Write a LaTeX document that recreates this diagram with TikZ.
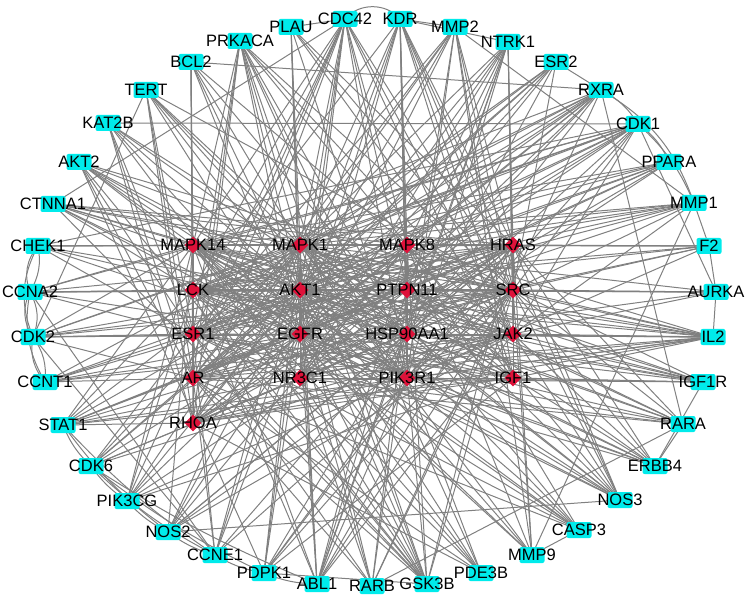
\documentclass[tikz,border=0pt]{standalone}
\usepackage{fontspec}
\setmainfont{Liberation Sans}
\usetikzlibrary{shapes.geometric,backgrounds}
\definecolor{genecyan}{RGB}{0,235,235}
\definecolor{hubred}{RGB}{222,18,58}
\definecolor{edgegray}{RGB}{128,128,128}
\tikzset{
  gene/.style={rectangle,rounded corners=2pt,fill=genecyan,minimum width=25pt,minimum height=16pt,inner sep=0pt},
  hub/.style={diamond,fill=hubred,minimum size=17pt,inner sep=0pt},
  nametag/.style={font=\fontsize{16.5}{18}\selectfont,text=black,inner sep=0pt},
  ppi/.style={draw=edgegray,line width=1pt},
}

\begin{document}
\begin{tikzpicture}[x=1pt,y=-1pt]
  \useasboundingbox (0,0) rectangle (749,601);

  % core targets
  \foreach \n/\x/\y in {MAPK14/193/245, MAPK1/300/245, MAPK8/407/245, HRAS/513/245,
                        LCK/193/290, AKT1/300/290, PTPN11/407/290, SRC/513/290,
                        ESR1/193/334, EGFR/300/334, HSP90AA1/407/334, JAK2/513/334,
                        AR/193/378, NR3C1/300/378, PIK3R1/407/378, IGF1/513/378,
                        RHOA/193/423}
    \node[hub,label={[nametag]center:\n}] (\n) at (\x,\y) {};

  % outer ring
  \foreach \n/\x/\y in {PLAU/291/27, CDC42/345/19, KDR/400/19, MMP2/455/27, NTRK1/508/42,
                        ESR2/556/62, RXRA/601/90, CDK1/638/124, PPARA/669/162, MMP1/694/203,
                        F2/709/246, AURKA/716/292, IL2/713/337, IGF1R/703/382, RARA/683/424,
                        ERBB4/655/466, NOS3/620/500, CASP3/579/530, MMP9/532/555, PDE3B/481/573,
                        GSK3B/427/584, RARB/372/586, ABL1/317/584, PDPK1/264/573, CCNE1/215/555,
                        NOS2/168/532, PIK3CG/127/501, CDK6/91/466, STAT1/63/425, CCNT1/45/382,
                        CDK2/33/337, CCNA2/30/292, CHEK1/38/246, CTNNA1/53/204, AKT2/79/162,
                        KAT2B/108/123, TERT/146/90, BCL2/191/62, PRKACA/240/41}
    \node[gene,label={[nametag]center:\n}] (\n) at (\x,\y) {};

  \begin{pgfonlayer}{background}
    % core to core
    \foreach \a [count=\i] in {MAPK14,MAPK1,MAPK8,HRAS,LCK,AKT1,PTPN11,SRC,ESR1,EGFR,HSP90AA1,JAK2,AR,NR3C1,PIK3R1,IGF1,RHOA}
      \foreach \b [count=\j] in {MAPK14,MAPK1,MAPK8,HRAS,LCK,AKT1,PTPN11,SRC,ESR1,EGFR,HSP90AA1,JAK2,AR,NR3C1,PIK3R1,IGF1,RHOA}
        {\ifnum\j>\i \draw[ppi] (\a.center) -- (\b.center); \fi}

    % ring to core
    \foreach \g/\hs in {
      PLAU/{MAPK1,AKT1,EGFR,SRC,HRAS,PIK3R1,JAK2},
      CDC42/{MAPK14,MAPK1,MAPK8,LCK,AKT1,PTPN11,SRC,EGFR,JAK2,PIK3R1,RHOA,AR,ESR1,NR3C1,IGF1},
      KDR/{MAPK1,MAPK8,AKT1,PTPN11,SRC,EGFR,HSP90AA1,JAK2,PIK3R1,IGF1,HRAS,LCK,NR3C1},
      MMP2/{MAPK1,AKT1,EGFR,SRC,HRAS,IGF1,ESR1,HSP90AA1,PIK3R1,AR},
      NTRK1/{MAPK1,MAPK8,AKT1,PTPN11,SRC,EGFR,PIK3R1,HRAS,JAK2,HSP90AA1,NR3C1},
      ESR2/{ESR1,AR,NR3C1,EGFR,AKT1,SRC,HSP90AA1,MAPK1},
      RXRA/{MAPK14,MAPK1,MAPK8,AR,ESR1,NR3C1,AKT1,EGFR,HSP90AA1,PTPN11,LCK},
      CDK1/{MAPK14,MAPK1,LCK,AKT1,SRC,EGFR,HSP90AA1,JAK2,PIK3R1,AR,ESR1,RHOA},
      PPARA/{MAPK14,MAPK1,AKT1,ESR1,AR,NR3C1,EGFR,HSP90AA1,LCK},
      MMP1/{MAPK14,MAPK1,MAPK8,AKT1,EGFR,ESR1,SRC,JAK2,LCK},
      F2/{HRAS,MAPK1,MAPK14,SRC,EGFR,AKT1,PIK3R1,LCK},
      AURKA/{SRC,AKT1,PTPN11,HSP90AA1,LCK,JAK2,MAPK1},
      IL2/{MAPK14,MAPK1,MAPK8,LCK,AKT1,PTPN11,SRC,ESR1,EGFR,HSP90AA1,JAK2,PIK3R1,IGF1,NR3C1,AR,RHOA},
      IGF1R/{IGF1,PIK3R1,AKT1,EGFR,SRC,MAPK1,JAK2,HSP90AA1,PTPN11,AR,LCK},
      RARA/{MAPK14,MAPK1,ESR1,AR,NR3C1,EGFR,HRAS,AKT1,PTPN11,SRC},
      ERBB4/{EGFR,PIK3R1,SRC,HRAS,MAPK1,AKT1,PTPN11,JAK2,ESR1,MAPK14},
      NOS3/{AKT1,MAPK1,MAPK8,HSP90AA1,EGFR,SRC,LCK,MAPK14,PTPN11,HRAS,JAK2},
      CASP3/{AKT1,MAPK14,MAPK8,EGFR,MAPK1,LCK,ESR1,AR},
      MMP9/{MAPK1,MAPK8,AKT1,EGFR,SRC,HRAS,MAPK14},
      PDE3B/{AKT1,PIK3R1,EGFR,MAPK14,AR,RHOA,LCK},
      GSK3B/{AKT1,MAPK14,MAPK1,MAPK8,HRAS,SRC,LCK,EGFR,ESR1,AR,PIK3R1,NR3C1},
      RARB/{ESR1,AR,NR3C1,EGFR,AKT1,HSP90AA1,PTPN11,SRC},
      ABL1/{MAPK14,MAPK1,MAPK8,LCK,AKT1,PTPN11,SRC,EGFR,HSP90AA1,JAK2,PIK3R1,HRAS},
      PDPK1/{AKT1,PIK3R1,EGFR,SRC,HSP90AA1,MAPK1,HRAS,IGF1},
      CCNE1/{AKT1,MAPK1,EGFR,ESR1,AR,SRC,HSP90AA1},
      NOS2/{AKT1,MAPK14,MAPK1,MAPK8,EGFR,SRC,HSP90AA1,JAK2,HRAS},
      PIK3CG/{AKT1,PIK3R1,MAPK14,MAPK1,EGFR,LCK,HRAS,IGF1},
      CDK6/{EGFR,AKT1,ESR1,AR,SRC,HSP90AA1,MAPK1,JAK2},
      STAT1/{MAPK14,MAPK1,JAK2,SRC,EGFR,AKT1,LCK,PTPN11,RHOA,HRAS,IGF1},
      CCNT1/{AR,ESR1,AKT1,EGFR,HSP90AA1,MAPK1,JAK2,HRAS},
      CDK2/{ESR1,AR,AKT1,EGFR,SRC,MAPK14,MAPK1,HSP90AA1,PTPN11},
      CCNA2/{LCK,AKT1,PTPN11,SRC,ESR1,EGFR,MAPK14,HRAS},
      CHEK1/{MAPK14,MAPK1,AKT1,EGFR,ESR1,HSP90AA1,MAPK8},
      CTNNA1/{MAPK14,MAPK1,MAPK8,HRAS,AKT1,SRC,EGFR,JAK2,PIK3R1,LCK},
      AKT2/{AKT1,MAPK14,MAPK1,EGFR,ESR1,AR,SRC,PIK3R1,HSP90AA1},
      KAT2B/{ESR1,AR,AKT1,EGFR,MAPK1,NR3C1,HSP90AA1,RHOA},
      TERT/{AKT1,MAPK1,EGFR,ESR1,AR,HSP90AA1,SRC,PIK3R1,RHOA},
      BCL2/{AKT1,MAPK14,MAPK1,MAPK8,EGFR,ESR1,AR,RHOA},
      PRKACA/{MAPK14,MAPK1,MAPK8,AKT1,EGFR,SRC,ESR1,HSP90AA1,JAK2,PIK3R1,AR,RHOA}}
      \foreach \h in \hs
        \draw[ppi] (\g.center) -- (\h.center);

    % ring to ring
    \foreach \a/\b in {PLAU/CDC42, KDR/MMP2, KDR/NTRK1, BCL2/RXRA, KAT2B/CDK1, CDK1/CCNA2,
                       CDK1/CDK2, CDK1/CHEK1, CDK2/CCNE1, CCNA2/CCNE1, RXRA/RARA, RXRA/RARB,
                       RARA/RARB, MMP1/MMP2, MMP1/MMP9, MMP2/MMP9, F2/MMP1, F2/AURKA,
                       AURKA/CDK1, IL2/STAT1, KDR/NOS3, NOS2/NOS3, CASP3/BCL2, GSK3B/CTNNA1,
                       GSK3B/PDPK1, PDPK1/AKT2, ERBB4/RARA, PRKACA/PDE3B, PRKACA/GSK3B,
                       CDC42/PIK3CG, TERT/CDK2, AKT2/GSK3B, CTNNA1/CDC42, ESR2/RXRA,
                       AURKA/IL2, IGF1R/ERBB4, CASP3/MMP9, NTRK1/ABL1}
      \draw[ppi] (\a.center) -- (\b.center);
    \foreach \a/\b/\s in {CDC42/KDR/50, RXRA/CDK1/15, CDK1/PPARA/15, RXRA/MMP1/20, CDK1/MMP1/12,
                          CCNT1/CDK2/25, CDK2/CCNA2/30, CCNA2/CHEK1/30, CDK2/CHEK1/25, CCNT1/CCNA2/20,
                          CDK2/CCNA2/-25, CCNA2/CHEK1/-20, CCNT1/CDK2/-20, CDK6/STAT1/12, PIK3CG/CDK6/10,
                          NOS2/PIK3CG/10, CCNE1/NOS2/10, PDPK1/CCNE1/10, ABL1/PDPK1/10, NOS2/STAT1/8,
                          CCNE1/CDK6/8, PDPK1/CDK6/6, ABL1/CDK6/5, CCNE1/STAT1/6}
      \draw[ppi] (\a.center) to[bend left=\s] (\b.center);
  \end{pgfonlayer}
\end{tikzpicture}
\end{document}
